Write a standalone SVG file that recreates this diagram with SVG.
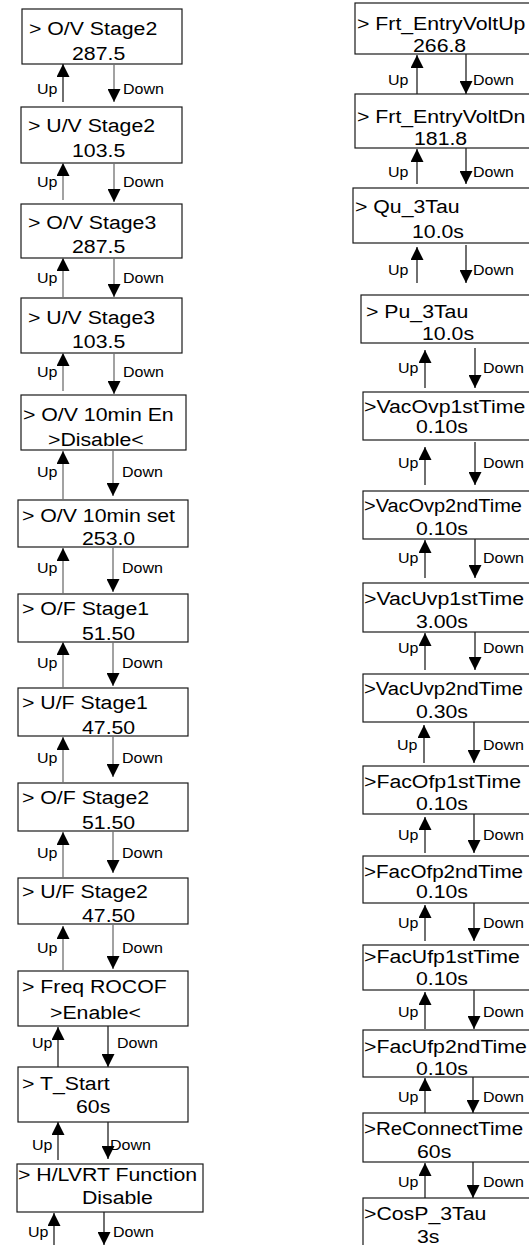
<svg xmlns="http://www.w3.org/2000/svg" width="529" height="1245" viewBox="0 0 529 1245">
<defs>
<marker id="ah" markerUnits="userSpaceOnUse" markerWidth="13" markerHeight="13" refX="13" refY="6.5" orient="auto" viewBox="0 0 13 13"><path d="M0,0 L13,6.5 L0,13 z" fill="#000"/></marker>
</defs>
<style>
#bg{fill:#fff;stroke:none}
rect.b{fill:#fff;stroke:#1a1a1a;stroke-width:1.2}
text{font-family:'Liberation Sans',Arial,sans-serif;fill:#000;transform-box:fill-box;transform-origin:0 0;transform:scaleX(1.12)}
.m{font-size:19px}
.l{font-size:14.3px}
line{stroke-width:1.3;marker-end:url(#ah)}
.g{stroke:#707070}
.k{stroke:#222}
</style>
<rect id="bg" x="0" y="0" width="529" height="1245"/>

<g id="L1"><rect class="b" x="22" y="9" width="160" height="55"/><text class="m" x="29" y="35">&gt; O/V Stage2</text><text class="m" x="72" y="60">287.5</text></g>
<g id="L2"><rect class="b" x="21" y="107" width="161" height="56"/><text class="m" x="28" y="132">&gt; U/V Stage2</text><text class="m" x="72" y="157">103.5</text></g>
<g id="L3"><rect class="b" x="21" y="204" width="161" height="54"/><text class="m" x="28" y="229">&gt; O/V Stage3</text><text class="m" x="72" y="253">287.5</text></g>
<g id="L4"><rect class="b" x="21" y="298" width="161" height="55"/><text class="m" x="28" y="324">&gt; U/V Stage3</text><text class="m" x="72" y="348">103.5</text></g>
<g id="L5"><rect class="b" x="21" y="395" width="165" height="55"/><text class="m" x="23" y="421">&gt; O/V 10min En</text><text class="m" x="48" y="446">&gt;Disable&lt;</text></g>
<g id="L6"><rect class="b" x="18" y="500" width="170" height="47"/><text class="m" x="22" y="522">&gt; O/V 10min set</text><text class="m" x="82" y="545">253.0</text></g>
<g id="L7"><rect class="b" x="18" y="594" width="170" height="48"/><text class="m" x="22" y="615">&gt; O/F Stage1</text><text class="m" x="82" y="640">51.50</text></g>
<g id="L8"><rect class="b" x="18" y="688" width="170" height="48"/><text class="m" x="22" y="709">&gt; U/F Stage1</text><text class="m" x="82" y="734">47.50</text></g>
<g id="L9"><rect class="b" x="18" y="783" width="170" height="48"/><text class="m" x="22" y="804">&gt; O/F Stage2</text><text class="m" x="82" y="829">51.50</text></g>
<g id="L10"><rect class="b" x="18" y="878" width="170" height="46"/><text class="m" x="22" y="898">&gt; U/F Stage2</text><text class="m" x="82" y="922">47.50</text></g>
<g id="L11"><rect class="b" x="18" y="971" width="170" height="55"/><text class="m" x="22" y="993">&gt; Freq ROCOF</text><text class="m" x="50" y="1019">&gt;Enable&lt;</text></g>
<g id="L12"><rect class="b" x="18" y="1067" width="170" height="55"/><text class="m" x="22" y="1090">&gt; T_Start</text><text class="m" x="76" y="1113">60s</text></g>
<g id="L13"><rect class="b" x="17" y="1164" width="186" height="48"/><text class="m" x="18" y="1181">&gt; H/LVRT Function</text><text class="m" x="82" y="1204">Disable</text></g>

<g id="R1"><rect class="b" x="355" y="3" width="190" height="51"/><text class="m" x="357" y="30">&gt; Frt_EntryVoltUp</text><text class="m" x="413" y="52">266.8</text></g>
<g id="R2"><rect class="b" x="355" y="94" width="190" height="54"/><text class="m" x="357" y="123">&gt; Frt_EntryVoltDn</text><text class="m" x="414" y="145">181.8</text></g>
<g id="R3"><rect class="b" x="353" y="188" width="190" height="55"/><text class="m" x="355" y="213">&gt; Qu_3Tau</text><text class="m" x="412" y="238">10.0s</text></g>
<g id="R4"><rect class="b" x="361" y="295" width="190" height="48"/><text class="m" x="366" y="318">&gt; Pu_3Tau</text><text class="m" x="422" y="340">10.0s</text></g>
<g id="R5"><rect class="b" x="363" y="392" width="190" height="48"/><text class="m" x="364" y="413">&gt;VacOvp1stTime</text><text class="m" x="416" y="433">0.10s</text></g>
<g id="R6"><rect class="b" x="363" y="491" width="190" height="48"/><text class="m" x="364" y="512" textLength="141" lengthAdjust="spacingAndGlyphs">&gt;VacOvp2ndTime</text><text class="m" x="416" y="535">0.10s</text></g>
<g id="R7"><rect class="b" x="363" y="583" width="190" height="49"/><text class="m" x="364" y="605">&gt;VacUvp1stTime</text><text class="m" x="416" y="628">3.00s</text></g>
<g id="R8"><rect class="b" x="363" y="674" width="190" height="48"/><text class="m" x="364" y="695" textLength="142" lengthAdjust="spacingAndGlyphs">&gt;VacUvp2ndTime</text><text class="m" x="416" y="718">0.30s</text></g>
<g id="R9"><rect class="b" x="363" y="766" width="190" height="48"/><text class="m" x="364" y="788">&gt;FacOfp1stTime</text><text class="m" x="416" y="810">0.10s</text></g>
<g id="R10"><rect class="b" x="363" y="856" width="190" height="47"/><text class="m" x="364" y="878" textLength="142" lengthAdjust="spacingAndGlyphs">&gt;FacOfp2ndTime</text><text class="m" x="416" y="898">0.10s</text></g>
<g id="R11"><rect class="b" x="363" y="945" width="190" height="45"/><text class="m" x="364" y="963">&gt;FacUfp1stTime</text><text class="m" x="416" y="985">0.10s</text></g>
<g id="R12"><rect class="b" x="363" y="1030" width="190" height="47"/><text class="m" x="364" y="1053">&gt;FacUfp2ndTime</text><text class="m" x="416" y="1075">0.10s</text></g>
<g id="R13"><rect class="b" x="363" y="1113" width="190" height="49"/><text class="m" x="364" y="1135" textLength="142" lengthAdjust="spacingAndGlyphs">&gt;ReConnectTime</text><text class="m" x="417" y="1158">60s</text></g>
<g id="R14"><rect class="b" x="363" y="1198" width="190" height="62"/><text class="m" x="364" y="1220">&gt;CosP_3Tau</text><text class="m" x="417" y="1243">3s</text></g>

<g id="connectors">
<line class="k" x1="63" y1="102" x2="63" y2="64"/><line class="g" x1="114" y1="64" x2="114" y2="102"/>
<line class="g" x1="63" y1="200" x2="63" y2="163"/><line class="g" x1="114" y1="163" x2="114" y2="202"/>
<line class="g" x1="63" y1="297" x2="63" y2="258"/><line class="g" x1="114" y1="258" x2="114" y2="297"/>
<line class="g" x1="63" y1="391" x2="63" y2="353"/><line class="g" x1="114" y1="353" x2="114" y2="394"/>
<line class="g" x1="63" y1="500" x2="63" y2="451"/><line class="g" x1="113" y1="450" x2="113" y2="496"/>
<line class="g" x1="63" y1="594" x2="63" y2="548"/><line class="g" x1="113" y1="547" x2="113" y2="592"/>
<line class="g" x1="63" y1="688" x2="63" y2="642"/><line class="g" x1="113" y1="642" x2="113" y2="686"/>
<line class="g" x1="63" y1="783" x2="63" y2="737"/><line class="g" x1="113" y1="736" x2="113" y2="777"/>
<line class="g" x1="63" y1="878" x2="63" y2="832"/><line class="g" x1="113" y1="831" x2="113" y2="873"/>
<line class="g" x1="63" y1="971" x2="63" y2="926"/><line class="g" x1="113" y1="924" x2="113" y2="969"/>
<line class="k" x1="58" y1="1067" x2="58" y2="1027"/><line class="k" x1="108" y1="1026" x2="108" y2="1067"/>
<line class="k" x1="58" y1="1160" x2="58" y2="1122"/><line class="k" x1="108" y1="1122" x2="108" y2="1159"/>
<line class="k" x1="54" y1="1245" x2="54" y2="1213"/><line class="k" x1="104" y1="1212" x2="104" y2="1245"/>

<line class="k" x1="417" y1="94" x2="417" y2="55"/><line class="k" x1="466" y1="54" x2="466" y2="94"/>
<line class="k" x1="417" y1="184" x2="417" y2="149"/><line class="k" x1="466" y1="148" x2="466" y2="184"/>
<line class="k" x1="417" y1="283" x2="417" y2="247"/><line class="k" x1="466" y1="245" x2="466" y2="283"/>
<line class="k" x1="425" y1="388" x2="425" y2="350"/><line class="k" x1="475" y1="348" x2="475" y2="388"/>
<line class="k" x1="425" y1="485" x2="425" y2="447"/><line class="k" x1="475" y1="442" x2="475" y2="485"/>
<line class="k" x1="425" y1="578" x2="425" y2="540"/><line class="k" x1="475" y1="539" x2="475" y2="578"/>
<line class="k" x1="425" y1="670" x2="425" y2="633"/><line class="k" x1="475" y1="632" x2="475" y2="670"/>
<line class="k" x1="424" y1="763" x2="424" y2="725"/><line class="k" x1="474" y1="722" x2="474" y2="763"/>
<line class="k" x1="425" y1="853" x2="425" y2="817"/><line class="k" x1="474" y1="814" x2="474" y2="853"/>
<line class="k" x1="425" y1="941" x2="425" y2="905"/><line class="k" x1="474" y1="903" x2="474" y2="941"/>
<line class="k" x1="425" y1="1029" x2="425" y2="992"/><line class="k" x1="474" y1="990" x2="474" y2="1029"/>
<line class="k" x1="425" y1="1113" x2="425" y2="1078"/><line class="k" x1="473" y1="1077" x2="473" y2="1113"/>
<line class="k" x1="425" y1="1198" x2="425" y2="1163"/><line class="k" x1="473" y1="1162" x2="473" y2="1198"/>

<text class="l" x="37" y="94">Up</text><text class="l" x="123" y="94">Down</text>
<text class="l" x="37" y="187">Up</text><text class="l" x="123" y="187">Down</text>
<text class="l" x="37" y="283">Up</text><text class="l" x="123" y="283">Down</text>
<text class="l" x="37" y="377">Up</text><text class="l" x="123" y="377">Down</text>
<text class="l" x="37" y="477">Up</text><text class="l" x="122" y="477">Down</text>
<text class="l" x="37" y="573">Up</text><text class="l" x="122" y="573">Down</text>
<text class="l" x="37" y="668">Up</text><text class="l" x="122" y="668">Down</text>
<text class="l" x="37" y="763">Up</text><text class="l" x="122" y="763">Down</text>
<text class="l" x="37" y="858">Up</text><text class="l" x="122" y="858">Down</text>
<text class="l" x="37" y="953">Up</text><text class="l" x="122" y="953">Down</text>
<text class="l" x="32" y="1048">Up</text><text class="l" x="117" y="1048">Down</text>
<text class="l" x="32" y="1150">Up</text><text class="l" x="110" y="1150">Down</text>
<text class="l" x="28" y="1237">Up</text><text class="l" x="113" y="1237">Down</text>

<text class="l" x="388" y="85">Up</text><text class="l" x="473" y="85">Down</text>
<text class="l" x="388" y="177">Up</text><text class="l" x="473" y="177">Down</text>
<text class="l" x="388" y="275">Up</text><text class="l" x="473" y="275">Down</text>
<text class="l" x="398" y="373">Up</text><text class="l" x="483" y="373">Down</text>
<text class="l" x="398" y="468">Up</text><text class="l" x="483" y="468">Down</text>
<text class="l" x="398" y="563">Up</text><text class="l" x="483" y="563">Down</text>
<text class="l" x="398" y="653">Up</text><text class="l" x="483" y="653">Down</text>
<text class="l" x="397" y="750">Up</text><text class="l" x="483" y="750">Down</text>
<text class="l" x="398" y="840">Up</text><text class="l" x="483" y="840">Down</text>
<text class="l" x="398" y="928">Up</text><text class="l" x="483" y="928">Down</text>
<text class="l" x="398" y="1017">Up</text><text class="l" x="483" y="1017">Down</text>
<text class="l" x="398" y="1102">Up</text><text class="l" x="483" y="1102">Down</text>
<text class="l" x="398" y="1187">Up</text><text class="l" x="483" y="1187">Down</text>
</g>
</svg>
